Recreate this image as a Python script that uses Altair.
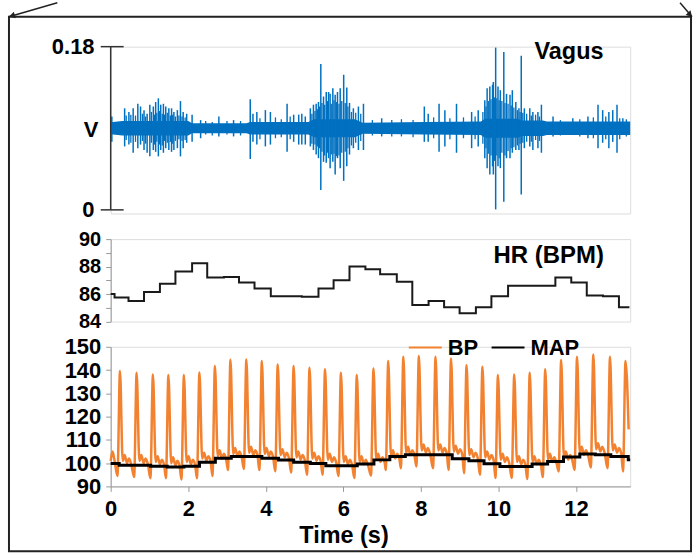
import altair as alt
import pandas as pd

FONT = "Liberation Sans"
BLUE = "#0070C0"
ORANGE = "#F28230"
X_DOMAIN = [0, 13.4]
W = 521

# ---------------- Vagus (V) ----------------
VAGUS_CENTER = 0.09
band_t = [0, 0.3, 2.0, 2.1, 3.5, 3.6, 5.1, 5.25, 6.3, 6.5, 8.1, 9.55, 9.65, 10.5, 10.6, 11.15, 11.25, 13.4]
band_w_mv = [6.5, 8, 8, 5.5, 5.5, 7, 7, 10, 10, 6, 7, 7.5, 10.5, 10.5, 8.5, 8.5, 7.5, 7.5]

# large spikes
spike_t = [0.03, 0.36, 0.47, 0.58, 0.70, 0.77, 0.86, 0.94, 1.01, 1.10, 1.16, 1.23, 1.29, 1.36, 1.42,
           1.50, 1.57, 1.63, 1.72, 1.80, 1.87, 1.96, 2.10, 2.32, 2.79, 3.17, 3.60, 3.67, 3.77, 3.99,
           4.12, 4.55, 4.72, 4.85, 4.93, 5.02, 5.15, 5.23, 5.30, 5.36, 5.42, 5.49, 5.56, 5.62, 5.66,
           5.73, 5.79, 5.85, 5.92, 6.01, 6.09, 6.16, 6.26, 6.39, 6.52, 6.99, 8.09, 8.19, 8.47, 8.62,
           8.92, 9.31, 9.48, 9.65, 9.71, 9.78, 9.85, 9.87, 9.93, 9.99, 10.05, 10.14, 10.21, 10.30,
           10.36, 10.45, 10.53, 10.59, 10.67, 10.81, 10.89, 11.02, 11.11, 11.41, 11.92, 12.31, 12.57,
           12.69, 12.85, 12.95, 13.06, 13.21]
spike_up_mv = [13, 22, 18, 22, 27, 24, 20, 16, 26, 24, 29, 33, 26, 27, 24,
               22, 22, 18, 20, 30, 18, 16, 15, 9, 13, 9, 32, 16, 18, 20,
               18, 27, 15, 15, 16, 13, 22, 26, 27, 29, 71, 35, 40, 40, 38,
               44, 37, 40, 44, 59, 45, 28, 22, 24, 27, 11, 24, 16, 27, 20,
               27, 18, 20, 31, 44, 46, 48, 51, 89, 46, 42, 84, 38, 37,
               42, 29, 22, 80, 22, 22, 18, 18, 26, 13, 11, 13, 26,
               20, 18, 20, 26, 11]
spike_down_mv = [15, 20, 18, 27, 22, 18, 24, 27, 31, 24, 26, 31, 24, 27, 22,
                 24, 26, 24, 22, 31, 22, 16, 15, 11, 9, 9, 34, 15, 18, 20,
                 18, 26, 15, 18, 18, 18, 20, 24, 29, 33, 68, 37, 38, 33, 44,
                 37, 51, 33, 44, 58, 42, 29, 22, 24, 24, 9, 15, 15, 26, 20,
                 27, 22, 20, 33, 44, 51, 42, 51, 89.5, 42, 44, 81, 33, 33,
                 27, 24, 24, 73, 22, 20, 24, 22, 27, 9, 7, 11, 22,
                 16, 22, 15, 27, 7]

# smaller spikes (texture of the bursts and of the baseline)
small_t = [0.40, 0.52, 0.64, 0.82, 0.90, 1.05, 1.13, 1.19, 1.26, 1.33, 1.39, 1.46, 1.54, 1.60, 1.67,
           1.76, 1.84, 1.92, 2.45, 2.62, 3.00, 3.35, 3.85, 4.25, 4.40, 4.63, 5.19, 5.27, 5.33, 5.39,
           5.45, 5.52, 5.59, 5.69, 5.76, 5.82, 5.89, 5.96, 6.05, 6.12, 6.21, 6.32, 6.45, 6.75, 7.25,
           7.50, 7.80, 8.33, 8.75, 9.10, 9.40, 9.60, 9.68, 9.74, 9.81, 9.90, 9.96, 10.02, 10.09,
           10.17, 10.25, 10.33, 10.40, 10.49, 10.56, 10.63, 10.73, 10.85, 10.96, 11.06, 11.60, 12.10,
           12.45, 12.77, 13.13, 13.30]
small_up_mv = [14, 15, 14, 16, 13, 18, 15, 17, 19, 16, 15, 17, 14, 15, 13,
               14, 13, 12, 8, 7, 8, 8, 11, 12, 10, 13, 16, 19, 21, 24,
               28, 26, 30, 27, 31, 29, 27, 30, 28, 24, 18, 17, 16, 9, 9,
               10, 9, 12, 11, 12, 13, 18, 24, 30, 32, 34, 33, 31, 30,
               28, 27, 25, 23, 20, 18, 17, 16, 14, 15, 13, 9, 10,
               12, 13, 11, 10]
small_down_mv = [13, 16, 15, 14, 17, 16, 18, 15, 18, 19, 14, 16, 15, 17, 14,
                 12, 14, 13, 7, 8, 7, 8, 12, 11, 10, 12, 17, 18, 20, 22,
                 26, 30, 27, 29, 28, 31, 30, 27, 26, 22, 19, 16, 14, 8, 9,
                 9, 10, 11, 12, 11, 12, 17, 22, 28, 30, 36, 30, 33, 27,
                 30, 25, 22, 21, 19, 17, 16, 15, 15, 13, 14, 8, 9,
                 11, 12, 12, 9]

# ---------------- Heart rate (BPM) ----------------
hr_t = [0, 0.1, 0.46, 0.86, 1.27, 1.67, 2.1, 2.49, 2.92, 3.31, 3.71, 4.13, 4.93, 5.36, 5.75, 6.16,
        6.57, 6.95, 7.38, 7.78, 8.2, 8.6, 9.0, 9.42, 9.82, 10.25, 11.47, 11.88, 12.28, 12.7, 13.11, 13.38]
hr_v = [86.0, 85.75, 85.5, 86.15, 86.75, 87.65, 88.25, 87.2, 87.25, 86.85, 86.4, 85.85, 85.8, 86.4,
        87.0, 88.0, 87.8, 87.45, 86.9, 85.2, 85.5, 85.05, 84.6, 85.05, 85.85, 86.6, 87.2, 86.85,
        85.9, 85.85, 85.05, 85.05]

# ---------------- Blood pressure (mmHg) ----------------
bp_peak_t = [0.24, 0.67, 1.09, 1.49, 1.89, 2.29, 2.69, 3.09, 3.50, 3.90, 4.31, 4.72, 5.13, 5.53, 5.94,
             6.35, 6.78, 7.16, 7.55, 7.95, 8.38, 8.78, 9.18, 9.59, 9.99, 10.41, 10.81, 11.21, 11.62,
             12.03, 12.45, 12.88, 13.28]
bp_peak_v = [139.6, 138.9, 138.1, 137.9, 137.9, 139.0, 141.7, 144.4, 144.5, 143.9, 142.4, 141.7, 141.0,
             140.3, 138.9, 137.9, 140.7, 143.9, 145.7, 146.1, 145.7, 145.0, 142.1, 141.4, 137.9, 138.1,
             138.9, 140.4, 144.3, 145.7, 146.7, 145.7, 143.9]
bp_trough_v = [94.5, 94.0, 93.5, 93.5, 93.0, 93.5, 94.5, 97.0, 97.5, 97.0, 96.5, 96.0, 95.0, 95.0, 94.5,
               93.6, 94.7, 97.1, 97.8, 98.6, 97.8, 97.1, 95.7, 95.0, 93.6, 93.6, 93.2, 94.0, 96.4, 97.1,
               98.1, 97.8, 96.4]
bp_bump_v = [103.5, 103.5, 103, 102.5, 103, 104.5, 105.5, 106.5, 107, 106.5, 106, 105, 104.5, 104, 103,
             103, 104, 105.5, 107, 108, 108, 107.5, 106, 105, 104, 103, 103, 104, 105, 107, 108.5, 108, 107]
bp_start_t = [0, 0.05, 0.10]
bp_start_v = [101, 105, 101]
bp_end_t = [13.36]
bp_end_v = [114.5]
# waveform shape after each systolic peak (s after peak, mmHg relative to dicrotic bump)
beat_shape_dt = [0.07, 0.12, 0.18, 0.23, 0.29]
beat_shape_dv = [-2.5, 0, -3.5, -1.5, -4]
BEAT_RISE = 0.065

map_t = [0, 0.22, 1.03, 1.46, 1.89, 2.29, 2.70, 3.11, 3.90, 4.33, 4.72, 5.15, 5.55, 6.36, 6.79, 7.20,
         7.60, 8.81, 9.24, 9.63, 10.04, 10.87, 11.27, 11.68, 12.10, 12.50, 12.90, 13.35, 13.4]
map_v = [99.85, 99.1, 98.7, 98.3, 98.7, 100.4, 102.1, 102.8, 102.1, 101.3, 100.4, 99.85, 98.9, 99.6,
         101.4, 102.85, 103.6, 101.9, 101.0, 99.7, 98.6, 99.6, 100.7, 102.6, 103.9, 103.6, 102.85,
         101.4, 101.4]

# ---------------- tables ----------------
band_df = pd.DataFrame({
    "t": band_t,
    "hi": [VAGUS_CENTER + w / 1000 for w in band_w_mv],
    "lo": [VAGUS_CENTER - w / 1000 for w in band_w_mv],
})
spk_df = pd.DataFrame({
    "t": spike_t,
    "hi": [VAGUS_CENTER + u / 1000 for u in spike_up_mv],
    "lo": [VAGUS_CENTER - d / 1000 for d in spike_down_mv],
})
small_df = pd.DataFrame({
    "t": small_t,
    "hi": [VAGUS_CENTER + u / 1000 for u in small_up_mv],
    "lo": [VAGUS_CENTER - d / 1000 for d in small_down_mv],
})
hr_df = pd.DataFrame({"t": hr_t, "v": hr_v})

bp_t, bp_v = list(bp_start_t), list(bp_start_v)
n_beats = len(bp_peak_t)
for i in range(n_beats):
    tp = bp_peak_t[i]
    bp_t += [tp - BEAT_RISE, tp]
    bp_v += [bp_trough_v[i], bp_peak_v[i]]
    if i < n_beats - 1:
        for dt, dv in zip(beat_shape_dt, beat_shape_dv):
            bp_t.append(tp + dt)
            bp_v.append(bp_bump_v[i] + dv)
bp_t += bp_end_t
bp_v += bp_end_v
bp_df = pd.DataFrame({"t": bp_t, "v": bp_v, "series": "BP"})
map_df = pd.DataFrame({"t": map_t, "v": map_v, "series": "MAP"})

one = pd.DataFrame({"a": [0]})

xs = alt.Scale(domain=X_DOMAIN, nice=False, zero=False)
lab = dict(labelFont=FONT, labelFontWeight="bold", labelColor="black",
           labelFlush=False, labelOverlap=False, grid=False, title=None)

# ---------------- Vagus panel ----------------
vy = alt.Scale(domain=[-0.004, 0.18], nice=False, zero=False)
vag_axis = alt.Axis(values=[0, 0.18], format=".2~f", domain=False, ticks=True, tickOpacity=0,
                    tickSize=10, labelPadding=6.7, labelFontSize=22, **lab)

def vY(field):
    return alt.Y(field, scale=vy, axis=vag_axis)

bounds_rect = alt.Chart(one).mark_rect(opacity=0).encode(
    x=alt.value(-110), x2=alt.value(586), y=alt.value(-45), y2=alt.value(509))
frame = alt.Chart(one).mark_rect(fillOpacity=0, stroke="#222", strokeWidth=2).encode(
    x=alt.value(-102), x2=alt.value(582), y=alt.value(-30), y2=alt.value(506))
arrow_l = alt.Chart(one).mark_rule(color="#222", strokeWidth=1.5).encode(
    x=alt.value(-102), x2=alt.value(-53.5), y=alt.value(-30), y2=alt.value(-44))
arrow_r = alt.Chart(one).mark_rule(color="#222", strokeWidth=1.5).encode(
    x=alt.value(583), x2=alt.value(571), y=alt.value(-30), y2=alt.value(-44))
head_l = alt.Chart(one).mark_point(shape="triangle-up", filled=True, size=45, color="#222",
                                   opacity=1, angle=254).encode(x=alt.value(-99), y=alt.value(-31))
head_r = alt.Chart(one).mark_point(shape="triangle-up", filled=True, size=45, color="#222",
                                   opacity=1, angle=137).encode(x=alt.value(581), y=alt.value(-32))

band = alt.Chart(band_df).mark_area(color=BLUE, interpolate="linear").encode(
    x=alt.X("t:Q", scale=xs, axis=None), y=vY("hi:Q"), y2="lo:Q")
small = alt.Chart(small_df).mark_rule(color=BLUE, strokeWidth=1.3).encode(
    x=alt.X("t:Q", scale=xs, axis=None), y=vY("hi:Q"), y2="lo:Q")
spikes = alt.Chart(spk_df).mark_rule(color=BLUE, strokeWidth=1.5).encode(
    x=alt.X("t:Q", scale=xs, axis=None), y=vY("hi:Q"), y2="lo:Q")
vax_df = pd.DataFrame({"lo": [0.0], "hi": [0.18]})
vaxis_line = alt.Chart(vax_df).mark_rule(color="#333", strokeWidth=1.5).encode(
    x=alt.value(0), y=vY("hi:Q"), y2="lo:Q")
vtick_df = pd.DataFrame({"hi": [0.0, 0.18]})
vticks = alt.Chart(vtick_df).mark_rule(color="#333", strokeWidth=1.5).encode(
    x=alt.value(-10), x2=alt.value(13), y=vY("hi:Q"))
vlabel = alt.Chart(pd.DataFrame({"hi": [VAGUS_CENTER], "s": ["V"]})).mark_text(
    align="right", baseline="middle", dy=2, font=FONT, fontSize=22, fontWeight="bold", color="black"
).encode(x=alt.value(-12.3), y=vY("hi:Q"), text="s:N")
vtitle = alt.Chart(one).mark_text(
    align="left", baseline="alphabetic", font=FONT, fontSize=23.5, fontWeight="bold", color="black"
).encode(x=alt.value(425), y=alt.value(12.3), text=alt.value("Vagus"))

vagus = alt.layer(bounds_rect, frame, arrow_l, arrow_r, head_l, head_r, band, small, spikes,
                  vaxis_line, vticks, vlabel, vtitle).properties(width=W, height=167.3)

# ---------------- HR panel ----------------
hy = alt.Scale(domain=[84, 90], nice=False, zero=False)
hr_axis = alt.Axis(values=[84, 85, 86, 87, 88, 89, 90],
                   labelExpr="datum.value % 2 == 0 ? datum.label : ''",
                   domainColor="#999", tickColor="#999", tickSize=5, labelPadding=5,
                   labelFontSize=20, **lab)
hr_line = alt.Chart(hr_df).mark_line(color="#1a1a1a", strokeWidth=2, interpolate="step-after").encode(
    x=alt.X("t:Q", scale=xs, axis=None),
    y=alt.Y("v:Q", scale=hy, axis=hr_axis))
hr_title = alt.Chart(one).mark_text(
    align="left", baseline="alphabetic", font=FONT, fontSize=24, fontWeight="bold", color="black"
).encode(x=alt.value(384), y=alt.value(24.4), text=alt.value("HR (BPM)"))
hr = alt.layer(hr_line, hr_title).properties(width=W, height=82.7)

# ---------------- BP panel ----------------
by = alt.Scale(domain=[90, 150], nice=False, zero=False)
color = alt.Color("series:N", scale=alt.Scale(domain=["BP", "MAP"], range=[ORANGE, "black"]),
                  legend=alt.Legend(orient="none", legendX=298, legendY=284, direction="horizontal",
                                    title=None, symbolType="stroke", symbolSize=1089,
                                    symbolStrokeWidth=2, labelFont=FONT, labelFontSize=22,
                                    labelFontWeight="bold", labelColor="black", labelOffset=5,
                                    columnPadding=9, padding=0))
x_axis = alt.Axis(values=[0, 2, 4, 6, 8, 10, 12], domainColor="#999", tickColor="#999", tickSize=5,
                  labelPadding=6.7, labelFontSize=22, labelFont=FONT, labelFontWeight="bold",
                  labelColor="black", labelFlush=False, labelOverlap=False, grid=False,
                  title="Time (s)", titleFont=FONT, titleFontSize=23.5, titleFontWeight="bold",
                  titleColor="black", titleX=233.5, titleY=56.7, titleAlign="center",
                  titleBaseline="alphabetic")
bp_axis = alt.Axis(values=[90, 100, 110, 120, 130, 140, 150], domainColor="#999", tickColor="#999",
                   tickSize=5, labelPadding=5, labelFontSize=22, **lab)
bp_line = alt.Chart(bp_df).mark_line(strokeWidth=2.5, interpolate="monotone").encode(
    x=alt.X("t:Q", scale=xs, axis=x_axis),
    y=alt.Y("v:Q", scale=by, axis=bp_axis),
    color=color)
map_line = alt.Chart(map_df).mark_line(strokeWidth=3, interpolate="step-after").encode(
    x=alt.X("t:Q", scale=xs, axis=x_axis),
    y=alt.Y("v:Q", scale=by, axis=bp_axis),
    color=color)
bp = alt.layer(bp_line, map_line).properties(width=W, height=140)

chart = alt.vconcat(vagus, hr, bp, spacing=25, bounds="flush").properties(
    padding=0
).configure_view(stroke=None).configure(font=FONT)

chart.save("out.html", embed_options={"renderer": "svg", "actions": False})
